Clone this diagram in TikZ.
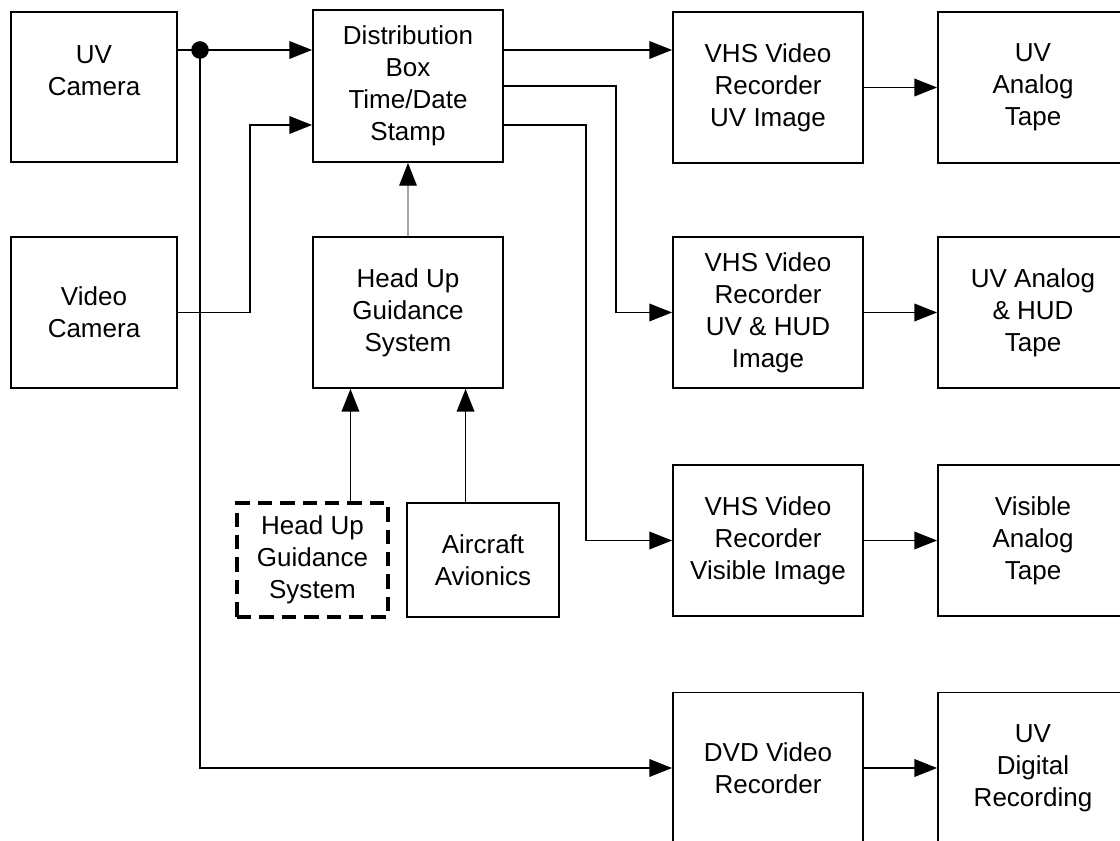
\documentclass[tikz,border=0pt]{standalone}
\usepackage{fontspec}
\setmainfont{Liberation Sans}
\usepackage{tikz}
\usetikzlibrary{arrows.meta,shapes,positioning,calc}

\begin{document}
\begin{tikzpicture}[
    blk/.style={draw, rectangle, line width=1.3pt, align=center, inner sep=0pt,
                font=\fontsize{18.5}{22.8}\selectfont},
    bigblk/.style={blk, minimum width=4.75cm, minimum height=3.775cm},
    conn/.style={line width=1.3pt, -{Triangle[length=0.57cm, width=0.44cm]}},
    feed/.style={draw=gray!70, line width=0.9pt, -{Triangle[length=0.57cm, width=0.44cm, color=black]}}
]
\useasboundingbox (0,0) rectangle (28,-21.025);
\clip (0,0) rectangle (28,-21.025);

% Cameras
\node[blk, minimum width=4.15cm, minimum height=3.75cm] (uvcam) at (2.35,-2.175) {UV\\Camera\\\mbox{}};
\node[blk, minimum width=4.15cm, minimum height=3.775cm] (vidcam) at (2.35,-7.8125) {Video\\Camera};

% Distribution and guidance
\node[blk, minimum width=4.75cm, minimum height=3.8cm] (dist) at (10.2,-2.15) {Distribution\\Box\\Time/Date\\Stamp};
\node[bigblk] (hugs) at (10.2,-7.8125) {Head Up\\Guidance\\System};
\node[blk, minimum width=3.775cm, minimum height=2.85cm, line width=2.2pt,
      dash pattern=on 0.36cm off 0.2cm] (hugopt) at (7.8125,-14.0) {Head Up\\Guidance\\System};
\node[blk, minimum width=3.8cm, minimum height=2.85cm] (avion) at (12.075,-14.0) {Aircraft\\Avionics};

% Recorders
\node[bigblk] (vhsuv) at (19.2,-2.1875) {VHS Video\\Recorder\\UV Image};
\node[bigblk] (vhshud) at (19.2,-7.8125) {VHS Video\\Recorder\\UV \& HUD\\Image};
\node[bigblk] (vhsvis) at (19.2,-13.5125) {VHS Video\\Recorder\\Visible Image};
\node[bigblk] (dvd) at (19.2,-19.2) {DVD Video\\Recorder};

% Tapes
\node[bigblk] (tapeuv) at (25.825,-2.1875) {UV\\Analog\\Tape};
\node[bigblk] (tapehud) at (25.825,-7.8125) {UV Analog\\\& HUD\\Tape};
\node[bigblk] (tapevis) at (25.825,-13.5125) {Visible\\Analog\\Tape};
\node[bigblk] (tapedvd) at (25.825,-19.2) {UV\\Digital\\Recording};

% Junctions and bends
\coordinate (dot) at (5,-1.25);
\coordinate (vidbend) at (6.25,-3.125);
\coordinate (midtap) at (15.4,0);
\coordinate (lowtap) at (14.65,-3.125);
\coordinate (inA) at ($(hugs.south west)!0.2!(hugs.south east)$);
\coordinate (inB) at ($(hugs.south west)!0.8!(hugs.south east)$);

% Camera signals
\draw[conn] (uvcam.east |- dot) -- (dist.west |- dot);
\fill (dot) circle (0.22);
\draw[conn] (dot) |- (dvd.west);
\draw[conn] (vidcam.east) -| (vidbend) -- (dist.west |- vidbend);

% Distribution outputs
\draw[conn] (dist.east |- dot) -- (vhsuv.west |- dot);
\draw[conn] (dist.east) -| (midtap |- vhshud.west) -- (vhshud.west);
\draw[conn] (dist.east |- lowtap) -| (lowtap |- vhsvis.west) -- (vhsvis.west);

% Guidance inputs
\draw[feed] (hugs.north) -- (dist.south);
\draw[conn] (hugopt.north -| inA) -- (inA);
\draw[conn] (avion.north -| inB) -- (inB);

% Recorder to tape
\draw[conn] (vhsuv) -- (tapeuv);
\draw[conn] (vhshud) -- (tapehud);
\draw[conn] (vhsvis) -- (tapevis);
\draw[conn] (dvd) -- (tapedvd);

\end{tikzpicture}
\end{document}
